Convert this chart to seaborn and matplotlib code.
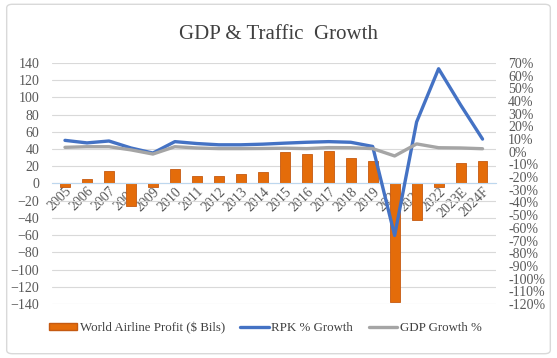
import numpy as np
import pandas as pd
import matplotlib
matplotlib.use("Agg")
import matplotlib.pyplot as plt
from matplotlib.patches import FancyBboxPatch, Patch
from matplotlib.lines import Line2D
import seaborn as sns

years = ['2005', '2006', '2007', '2008', '2009', '2010', '2011', '2012', '2013', '2014',
         '2015', '2016', '2017', '2018', '2019', '2020', '2021', '2022', '2023E', '2024F']
profit = [-4.1, 5.0, 14.7, -26.1, -4.6, 17.3, 8.3, 9.2, 10.7, 13.8,
          36.0, 34.2, 37.6, 30.0, 26.4, -137.7, -42.0, -3.6, 23.3, 25.7]
rpk_growth = [9, 7, 8.5, 3, -1, 8, 6.5, 5.5, 5.5, 6,
              6.8, 7.5, 8, 7.5, 4.2, -66, 23.5, 65.5, 37, 10]
gdp_growth = [3.5, 4, 4, 1.5, -1.8, 4, 3, 2.5, 2.5, 2.6,
              2.8, 2.5, 3.3, 3.2, 2.5, -3.3, 6.2, 3.2, 3, 2.4]

df = pd.DataFrame({'Year': years, 'Profit': profit, 'RPK': rpk_growth, 'GDP': gdp_growth})
df['pos'] = np.arange(len(df))

sns.set_style("white")
plt.rcParams['font.family'] = ['Liberation Serif', 'DejaVu Serif']

fig = plt.figure(figsize=(5.57, 3.58), dpi=100)
fig.patches.append(FancyBboxPatch((0.012, 0.012), 0.976, 0.976, boxstyle="round,pad=0,rounding_size=0.01",
                                  transform=fig.transFigure, fill=False, edgecolor='#D9D9D9', lw=1))
ax = fig.add_axes([0.093, 0.151, 0.797, 0.673])
ax2 = ax.twinx()

sns.barplot(data=df, x='pos', y='Profit', ax=ax, color='#E46C0A', width=0.45,
            edgecolor='#C55A11', linewidth=0.6, saturation=1, native_scale=True)
sns.lineplot(data=df, x='pos', y='RPK', ax=ax2, color='#4472C4', linewidth=2.4)
sns.lineplot(data=df, x='pos', y='GDP', ax=ax2, color='#A5A5A5', linewidth=2.4)

ax.set_ylim(-140, 140)
ax.set_yticks(np.arange(-140, 141, 20))
ax.set_xlim(-0.6, len(years) - 0.4)
ax.grid(axis='y', color='#D9D9D9', lw=0.8)
ax.set_axisbelow(True)
ax2.set_ylim(-120, 70)
ax2.set_yticks(np.arange(-120, 71, 10))
ax2.set_yticklabels([f'{v}%' for v in range(-120, 71, 10)])
ax2.grid(False)

for a in (ax, ax2):
    for s in ['top', 'right', 'left']:
        a.spines[s].set_visible(False)
    a.tick_params(axis='y', length=0, labelsize=10, labelcolor='#595959', pad=9)
    a.set_xlabel('')
    a.set_ylabel('')
ax2.spines['bottom'].set_visible(False)
ax.spines['bottom'].set_position(('data', 0))
ax.spines['bottom'].set_color('#BDD7EE')
ax.set_xticks(df['pos'])
ax.set_xticklabels(years, rotation=45, ha='right', va='top', rotation_mode='anchor')
ax.tick_params(axis='x', length=0, labelsize=10, labelcolor='#595959', pad=1)

fig.text(0.5, 0.905, 'GDP & Traffic  Growth', ha='center', va='center', fontsize=15, color='#404040')

handles = [Patch(facecolor='#E46C0A', edgecolor='#C55A11'),
           Line2D([], [], color='#4472C4', lw=2.4),
           Line2D([], [], color='#A5A5A5', lw=2.4)]
fig.legend(handles, ['World Airline Profit ($ Bils)', 'RPK % Growth', 'GDP Growth %'],
           loc='center', bbox_to_anchor=(0.476, 0.084), ncol=3, frameon=False, fontsize=9.3,
           handlelength=2.2, handleheight=0.5, handletextpad=0.2, columnspacing=1.2,
           labelcolor='#404040')

fig.savefig('out.png', dpi=100)
